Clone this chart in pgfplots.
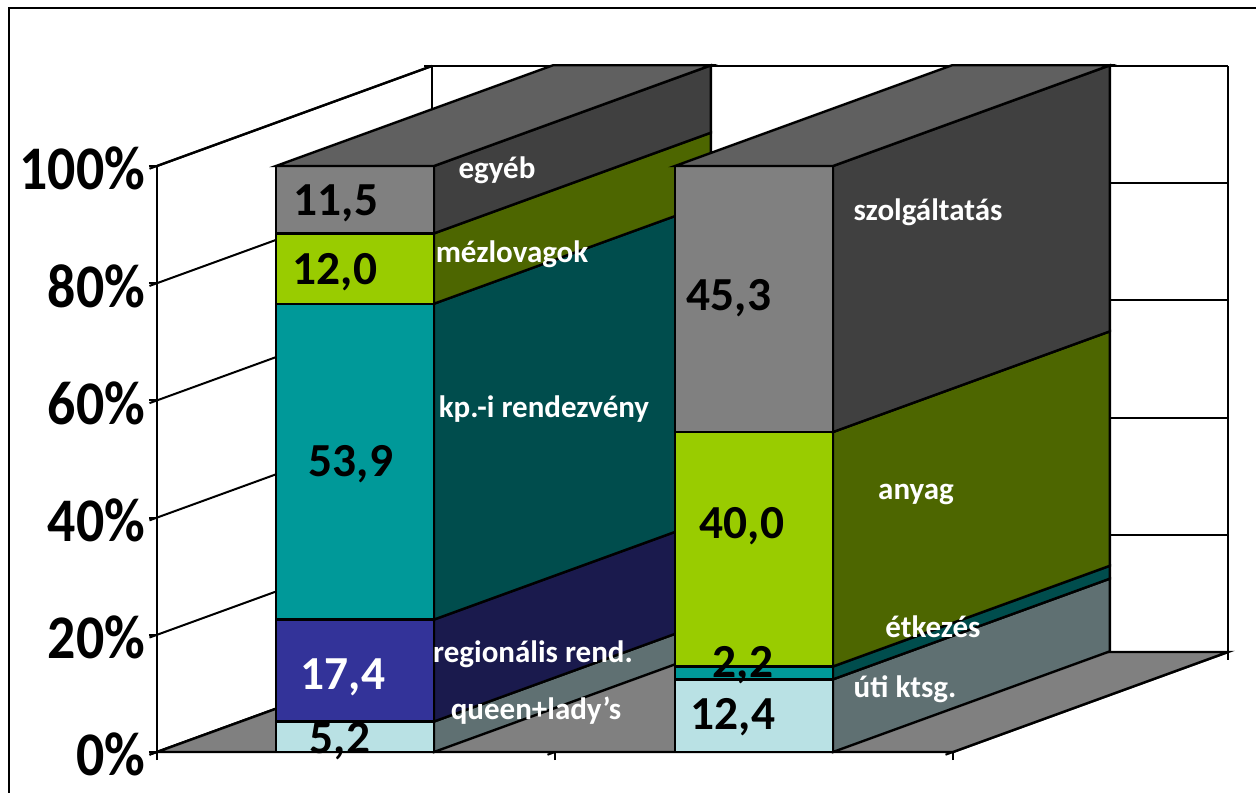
\documentclass[border=0pt]{standalone}
\usepackage{fontspec}
\setmainfont{Carlito}
\newfontfamily\tickfont{Carlito}[FakeStretch=0.9]
\usepackage{pgfplots}
\pgfplotsset{compat=1.18}
\definecolor{f1}{HTML}{B9E1E4}\definecolor{s1}{HTML}{5F7072}
\definecolor{f2}{HTML}{333399}\definecolor{s2}{HTML}{1A1A4D}
\definecolor{f3}{HTML}{009999}\definecolor{s3}{HTML}{004D4D}
\definecolor{f4}{HTML}{99CC00}\definecolor{s4}{HTML}{4D6600}
\definecolor{f5}{HTML}{808080}\definecolor{s5}{HTML}{404040}
\definecolor{t5}{HTML}{606060}
% x0, x1, lower, upper, front colour, side colour
\newcommand\seg[6]{%
  \addplot3[draw=black,line width=1.2pt,fill=#6,mark=none] coordinates {(#2,0,#3)(#2,1.007,#3)(#2,1.007,#4)(#2,0,#4)} -- cycle;
  \addplot3[draw=black,line width=1.2pt,fill=#5,mark=none] coordinates {(#1,0,#3)(#2,0,#3)(#2,0,#4)(#1,0,#4)} -- cycle;
}
\newcommand\toplid[3]{%
  \addplot3[draw=black,line width=1.2pt,fill=t5,mark=none] coordinates {(#1,0,#3)(#2,0,#3)(#2,1.007,#3)(#1,1.007,#3)} -- cycle;
}
\newcommand\dlab[4][black]{\node[text=#1,font=\fontsize{23.7}{23.7}\selectfont\bfseries,inner sep=0pt] at (axis cs:{(#2-157)/398},0,{(752-#3-3)/5.86}) {#4};}
\newcommand\slab[3]{\node[text=white,font=\fontsize{15.5}{15.5}\selectfont\bfseries,inner sep=0pt] at (axis cs:{(#1-157)/398},0,{(752-#2-2)/5.86}) {#3};}
\begin{document}
\begin{tikzpicture}[x=1pt,y=1pt]
\path[use as bounding box] (0,0) rectangle (628,396);
\draw[black,line width=1pt] (4.5,-2) -- (4.5,392) -- (630,392);
\begin{axis}[
  at={(78.5pt,20pt)},anchor=origin,
  x={(199pt,0pt)},y={(137.5pt,50pt)},z={(0pt,2.93pt)},
  xmin=0,xmax=2,ymin=0,ymax=1,zmin=0,zmax=100,
  clip=false,
  xtick={0,1,2},xticklabels={},ytick=\empty,
  ztick={0,20,40,60,80,100},
  zticklabels={0\%,20\%,40\%,60\%,80\%,100\%},
  zmajorgrids=true,
  tick pos=left,
  grid style={black,line width=1pt},
  axis line style={black,line width=1.2pt},
  tick style={black,line width=1pt},
  tick align=outside,major tick length=4pt,
  ticklabel style={font=\fontsize{31}{31}\tickfont\bfseries,inner sep=0pt},
  zticklabel style={anchor=east,xshift=-2pt},
]
\addplot3[draw=black,line width=1.2pt,fill=f5,mark=none] coordinates {(0,0,0)(2,0,0)(2,1,0)(0,1,0)} -- cycle;
% left column
\seg{0.299}{0.696}{0}{5.2}{f1}{s1}
\seg{0.299}{0.696}{5.2}{22.6}{f2}{s2}
\seg{0.299}{0.696}{22.6}{76.5}{f3}{s3}
\seg{0.299}{0.696}{76.5}{88.5}{f4}{s4}
\seg{0.299}{0.696}{88.5}{100}{f5}{s5}
\toplid{0.299}{0.696}{100}
% right column
\seg{1.3015}{1.6985}{0}{12.4}{f1}{s1}
\seg{1.3015}{1.6985}{12.4}{14.6}{f3}{s3}
\seg{1.3015}{1.6985}{14.6}{54.6}{f4}{s4}
\seg{1.3015}{1.6985}{54.6}{100}{f5}{s5}
\toplid{1.3015}{1.6985}{100}
\dlab{336}{200}{11,5}
\dlab{335}{269}{12,0}
\dlab{351}{461}{53,9}
\dlab[white]{343}{674}{17,4}
\dlab{340}{738}{5,2}
\dlab{733}{714}{12,4}
\dlab{743}{662}{2,2}
\dlab{742}{523}{40,0}
\dlab{729}{295}{45,3}
\slab{497}{168}{egyéb}
\slab{512}{252}{mézlovagok}
\slab{544}{407}{kp.-i rendezvény}
\slab{533}{652}{regionális rend.}
\slab{536}{709}{queen+lady’s}
\slab{928}{210}{szolgáltatás}
\slab{916}{492}{anyag}
\slab{933}{625}{étkezés}
\slab{905}{687}{úti ktsg.}
\end{axis}
\end{tikzpicture}
\end{document}
